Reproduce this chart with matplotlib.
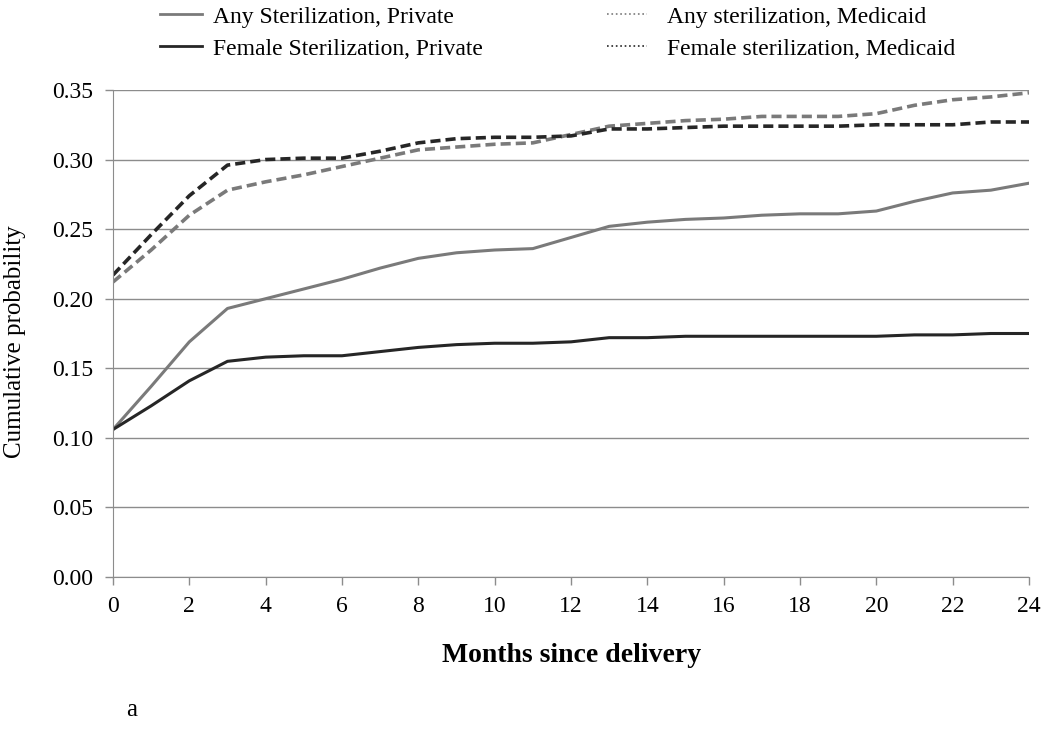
import numpy as np
from matplotlib import pyplot as plt
from matplotlib.lines import Line2D

months = np.arange(0, 25)

# cumulative probability of sterilization
any_private = [0.106, 0.137, 0.169, 0.193, 0.200, 0.207, 0.214, 0.222, 0.229, 0.233,
               0.235, 0.236, 0.244, 0.252, 0.255, 0.257, 0.258, 0.260, 0.261, 0.261,
               0.263, 0.270, 0.276, 0.278, 0.283]
female_private = [0.106, 0.123, 0.141, 0.155, 0.158, 0.159, 0.159, 0.162, 0.165, 0.167,
                  0.168, 0.168, 0.169, 0.172, 0.172, 0.173, 0.173, 0.173, 0.173, 0.173,
                  0.173, 0.174, 0.174, 0.175, 0.175]
any_medicaid = [0.212, 0.235, 0.260, 0.278, 0.284, 0.289, 0.295, 0.301, 0.307, 0.309,
                0.311, 0.312, 0.318, 0.324, 0.326, 0.328, 0.329, 0.331, 0.331, 0.331,
                0.333, 0.339, 0.343, 0.345, 0.348]
female_medicaid = [0.217, 0.246, 0.274, 0.296, 0.300, 0.301, 0.301, 0.306, 0.312, 0.315,
                   0.316, 0.316, 0.317, 0.322, 0.322, 0.323, 0.324, 0.324, 0.324, 0.324,
                   0.325, 0.325, 0.325, 0.327, 0.327]

labels = ["Any Sterilization, Private", "Female Sterilization, Private",
          "Any sterilization, Medicaid", "Female sterilization, Medicaid"]

plt.rcParams['font.family'] = 'Liberation Serif'

fig = plt.figure(figsize=(10.5, 7.48), dpi=100)
ax = fig.add_axes([0.1076, 0.2286, 0.8724, 0.6511])

grey = '#7a7a7a'
dark = '#262626'
ax.plot(months, any_private, color=grey, lw=2.2)
ax.plot(months, female_private, color=dark, lw=2.2)
ax.plot(months, any_medicaid, color=grey, lw=2.6, dashes=(2.8, 1.4))
ax.plot(months, female_medicaid, color=dark, lw=2.6, dashes=(2.8, 1.4))

ax.set_xlim(0, 24)
ax.set_ylim(0, 0.35)
ax.set_xticks(np.arange(0, 25, 2))
ax.set_yticks(np.arange(0, 0.351, 0.05))
ax.set_yticklabels(["%.2f" % v for v in np.arange(0, 0.351, 0.05)])
ax.yaxis.grid(True, color='#8c8c8c', lw=1)
ax.set_axisbelow(True)
for s in ['top', 'right']:
    ax.spines[s].set_visible(False)
ax.spines['left'].set_color('#8c8c8c')
ax.spines['bottom'].set_color('#8c8c8c')
ax.tick_params(axis='both', labelsize=17, colors='#8c8c8c', labelcolor='black',
               length=6, width=1, pad=8)

fig.text(15 / 1050, 1 - 342 / 748, "Cumulative probability", fontsize=18,
         rotation=90, ha='center', va='center')
fig.text(0.544, 0.124, "Months since delivery", fontsize=20, fontweight='bold',
         ha='center', va='center')
fig.text(0.12, 0.051, "a", fontsize=18, va='center')

handles = [Line2D([], [], color=grey, lw=2),
           Line2D([], [], color=dark, lw=2),
           Line2D([], [], color=grey, lw=1.2, ls=':'),
           Line2D([], [], color=dark, lw=1.2, ls=':')]
leg1 = fig.legend(handles[:2], labels[:2], loc='upper left',
                  bbox_to_anchor=(160 / 1050, 0.992), frameon=False, fontsize=17,
                  handlelength=1.78, handletextpad=0.47, labelspacing=0.45,
                  borderpad=0, borderaxespad=0)
leg2 = fig.legend(handles[2:], labels[2:], loc='upper left',
                  bbox_to_anchor=(607 / 1050, 0.992), frameon=False, fontsize=17,
                  handlelength=1.7, handletextpad=0.85, labelspacing=0.45,
                  borderpad=0, borderaxespad=0)

fig.savefig("out.png", dpi=100)
